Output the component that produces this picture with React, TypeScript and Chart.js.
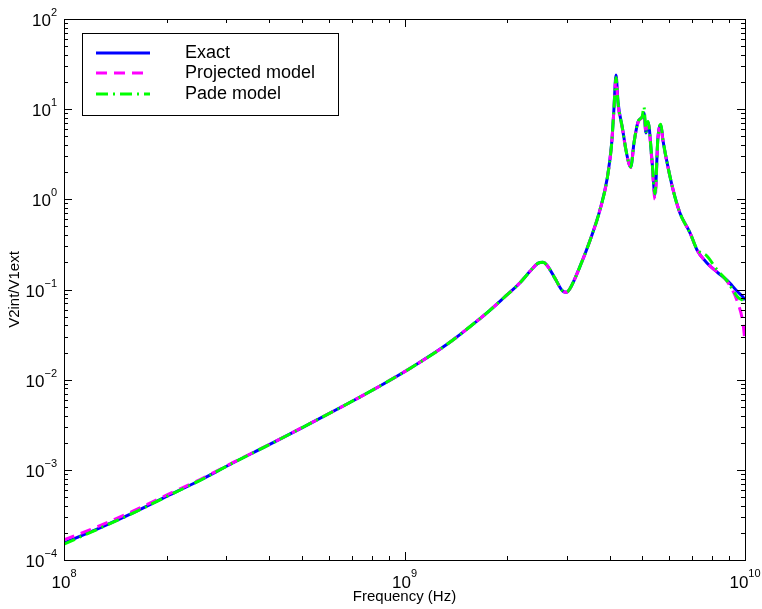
import React, { useEffect, useRef } from "react";
import { Chart, registerables } from "chart.js";
Chart.register(...registerables);

// Frequency samples (Hz)
const freqHz = [
  1.0e8, 1.28e8, 1.6e8, 2.0e8, 2.51e8, 3.13e8, 3.94e8, 4.93e8, 6.78e8, 8.47e8,
  1.06e9, 1.33e9, 1.67e9, 1.76e9, 1.95e9, 2.18e9, 2.34e9, 2.47e9, 2.55e9, 2.62e9,
  2.77e9, 2.92e9, 2.99e9, 3.06e9, 3.27e9, 3.51e9, 3.75e9, 3.94e9, 4.06e9, 4.12e9,
  4.18e9, 4.24e9, 4.36e9, 4.5e9, 4.62e9, 4.72e9, 4.85e9, 4.99e9, 5.05e9, 5.12e9,
  5.19e9, 5.33e9, 5.44e9, 5.55e9, 5.66e9, 5.74e9, 5.9e9, 6.15e9, 6.44e9, 6.9e9,
  7.23e9, 7.73e9, 8.28e9, 8.85e9, 9.53e9, 9.86e9, 1.0e10,
];

const exactValues = [
  1.55e-4, 2.29e-4, 3.35e-4, 5.07e-4, 7.67e-4, 1.19e-3, 1.84e-3, 2.85e-3, 5.37e-3, 8.51e-3,
  1.4e-2, 2.45e-2, 4.79e-2, 5.65e-2, 8.0e-2, 0.118, 0.16, 0.196, 0.2, 0.186,
  0.132, 0.0955, 0.0933, 0.102, 0.177, 0.354, 0.762, 1.72, 4.22, 9.79,
  23.9, 11.7, 6.34, 3.1, 2.28, 4.22, 7.21, 8.18, 9.06, 5.45,
  7.21, 2.73, 1.12, 4.79, 6.67, 4.55, 2.59, 1.27, 0.705, 0.423,
  0.274, 0.197, 0.156, 0.127, 0.0937, 0.0826, 0.0764,
];

const projectedValues = [
  1.67e-4, 2.42e-4, 3.5e-4, 5.25e-4, 7.8e-4, 1.2e-3, 1.85e-3, 2.86e-3, 5.37e-3, 8.51e-3,
  1.4e-2, 2.45e-2, 4.79e-2, 5.65e-2, 8.0e-2, 0.118, 0.16, 0.196, 0.2, 0.186,
  0.132, 0.0955, 0.0933, 0.102, 0.177, 0.354, 0.762, 1.72, 4.22, 9.5,
  22.0, 11.0, 6.2, 3.05, 2.25, 4.2, 7.1, 8.1, 8.8, 5.4,
  7.0, 2.6, 1.0, 4.7, 6.5, 4.5, 2.55, 1.27, 0.705, 0.423,
  0.274, 0.197, 0.156, 0.124, 0.0708, 0.0425, 0.0262,
];

const padeValues = [
  1.5e-4, 2.27e-4, 3.33e-4, 5.05e-4, 7.65e-4, 1.19e-3, 1.84e-3, 2.85e-3, 5.37e-3, 8.51e-3,
  1.4e-2, 2.45e-2, 4.79e-2, 5.65e-2, 8.0e-2, 0.118, 0.16, 0.196, 0.2, 0.186,
  0.132, 0.0955, 0.0933, 0.102, 0.177, 0.354, 0.762, 1.72, 4.22, 9.8,
  22.5, 11.5, 6.3, 3.1, 2.28, 4.22, 7.3, 8.3, 10.6, 5.6,
  7.3, 2.75, 1.15, 4.8, 6.8, 4.6, 2.6, 1.27, 0.705, 0.423,
  0.28, 0.235, 0.165, 0.125, 0.082, 0.076, 0.072,
];

const seriesLabels = ["Exact", "Projected model", "Pade model"];
const seriesColors = ["#0000ff", "#ff00ff", "#00ff00"];
const seriesDashes: number[][] = [[], [11, 7], [12, 5, 2, 5]];

const xTickExponents = [8, 9, 10];
const yTickExponents = [-4, -3, -2, -1, 0, 1, 2];
const xTitle = "Frequency (Hz)";
const yTitle = "V2int/V1ext";

const FONT = "'Liberation Sans', Arial, Helvetica, sans-serif";

const axesPlugin = {
  id: "matlabAxes",
  afterDraw(chart: any) {
    const { ctx, chartArea: a, scales } = chart;
    const xs = scales.x;
    const ys = scales.y;
    ctx.save();
    ctx.strokeStyle = "#000";
    ctx.lineWidth = 1;
    ctx.beginPath();
    for (let e = xTickExponents[0]; e < xTickExponents[xTickExponents.length - 1] + 1; e++) {
      for (let m = 1; m <= 9; m++) {
        const v = m * Math.pow(10, e);
        if (v < xs.min * 0.999 || v > xs.max * 1.001) continue;
        const px = Math.round(xs.getPixelForValue(v)) + 0.5;
        const len = m === 1 ? 8 : 4;
        ctx.moveTo(px, a.bottom);
        ctx.lineTo(px, a.bottom - len);
        ctx.moveTo(px, a.top);
        ctx.lineTo(px, a.top + len);
      }
    }
    for (let e = yTickExponents[0]; e < yTickExponents[yTickExponents.length - 1] + 1; e++) {
      for (let m = 1; m <= 9; m++) {
        const v = m * Math.pow(10, e);
        if (v < ys.min * 0.999 || v > ys.max * 1.001) continue;
        const py = Math.round(ys.getPixelForValue(v)) + 0.5;
        const len = m === 1 ? 8 : 4;
        ctx.moveTo(a.left, py);
        ctx.lineTo(a.left + len, py);
        ctx.moveTo(a.right, py);
        ctx.lineTo(a.right - len, py);
      }
    }
    ctx.stroke();
    ctx.strokeRect(Math.round(a.left) + 0.5, Math.round(a.top) + 0.5, Math.round(a.right - a.left), Math.round(a.bottom - a.top));

    ctx.fillStyle = "#000";
    ctx.textBaseline = "alphabetic";
    for (const e of xTickExponents) {
      const px = xs.getPixelForValue(Math.pow(10, e));
      ctx.font = `17px ${FONT}`;
      const w1 = ctx.measureText("10").width;
      ctx.font = `11px ${FONT}`;
      const w2 = ctx.measureText(String(e)).width;
      const x0 = px - (w1 + w2) / 2;
      ctx.font = `17px ${FONT}`;
      ctx.textAlign = "left";
      ctx.fillText("10", x0, a.bottom + 28);
      ctx.font = `11px ${FONT}`;
      ctx.fillText(String(e), x0 + w1, a.bottom + 17);
    }
    for (const e of yTickExponents) {
      const py = ys.getPixelForValue(Math.pow(10, e));
      const expStr = e < 0 ? "\u2212" + Math.abs(e) : String(e);
      ctx.font = `11px ${FONT}`;
      const w2 = ctx.measureText(expStr).width;
      ctx.font = `17px ${FONT}`;
      const w1 = ctx.measureText("10").width;
      const xr = a.left - 7;
      ctx.textAlign = "left";
      ctx.fillText("10", xr - w2 - w1, py + 7);
      ctx.font = `11px ${FONT}`;
      ctx.fillText(expStr, xr - w2, py - 3);
    }
    ctx.font = `15px ${FONT}`;
    ctx.textAlign = "center";
    ctx.textBaseline = "middle";
    ctx.fillText(xTitle, (a.left + a.right) / 2, 597);
    ctx.save();
    ctx.translate(15, (a.top + a.bottom) / 2);
    ctx.rotate(-Math.PI / 2);
    ctx.fillText(yTitle, 0, 0);
    ctx.restore();

    const lx = 82, ly = 33, lw = 256, lh = 82;
    ctx.fillStyle = "#fff";
    ctx.fillRect(lx, ly, lw, lh);
    ctx.strokeStyle = "#000";
    ctx.lineWidth = 1;
    ctx.strokeRect(lx + 0.5, ly + 0.5, lw, lh);
    const rows = [53, 73, 94];
    for (let i = 0; i < seriesLabels.length; i++) {
      ctx.strokeStyle = seriesColors[i];
      ctx.lineWidth = 3;
      ctx.setLineDash(seriesDashes[i]);
      ctx.beginPath();
      ctx.moveTo(96, rows[i]);
      ctx.lineTo(150, rows[i]);
      ctx.stroke();
      ctx.setLineDash([]);
      ctx.fillStyle = "#000";
      ctx.font = `18px ${FONT}`;
      ctx.textAlign = "left";
      ctx.textBaseline = "middle";
      ctx.fillText(seriesLabels[i], 185, rows[i]);
    }
    ctx.restore();
  },
};

export default function App() {
  const ref = useRef<HTMLCanvasElement | null>(null);
  useEffect(() => {
    if (!ref.current) return;
    const mk = (vals: number[]) => freqHz.map((f, i) => ({ x: f, y: vals[i] }));
    const allVals = [exactValues, projectedValues, padeValues];
    const chart = new Chart(ref.current, {
      type: "line",
      data: {
        datasets: seriesLabels.map((label, i) => ({
          label,
          data: mk(allVals[i]),
          borderColor: seriesColors[i],
          backgroundColor: seriesColors[i],
          borderWidth: 3,
          borderDash: seriesDashes[i],
          pointRadius: 0,
          fill: false,
          cubicInterpolationMode: "monotone" as const,
          order: 2 - i,
        })),
      },
      options: {
        animation: false,
        responsive: false,
        maintainAspectRatio: false,
        layout: { padding: { left: 64, right: 17, top: 19, bottom: 49 } },
        plugins: { legend: { display: false }, tooltip: { enabled: false } },
        scales: {
          x: { type: "logarithmic", min: 1e8, max: 1e10, display: false },
          y: { type: "logarithmic", min: 1e-4, max: 1e2, display: false },
        },
      },
      plugins: [axesPlugin],
    });
    return () => chart.destroy();
  }, []);
  return (
    <div style={{ position: "fixed", left: 0, top: 0, width: 762, height: 609, background: "#fff" }}>
      <canvas ref={ref} width={762} height={609} style={{ width: 762, height: 609 }} />
    </div>
  );
}
